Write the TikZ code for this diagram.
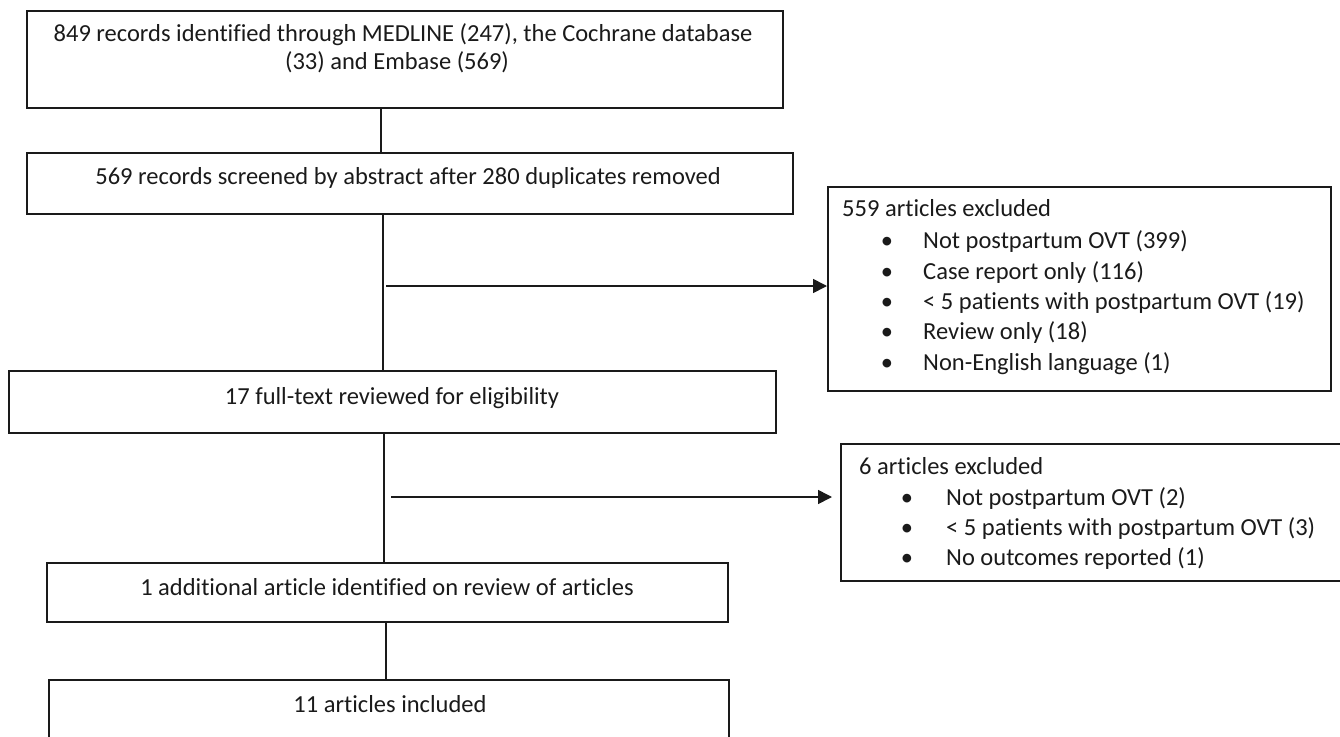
\documentclass[tikz,border=0pt]{standalone}
\usepackage{fontspec}
\setmainfont{Carlito}[Ligatures={NoCommon}]
\usetikzlibrary{arrows.meta}
\definecolor{ink}{HTML}{1A1A1A}
\begin{document}
\begin{tikzpicture}[x=1pt,y=-1pt,
  box/.style={draw=ink,line width=1.6pt,inner sep=0pt,anchor=north west,rectangle},
  txt/.style={text=ink,font=\fontsize{24.5}{28}\selectfont,inner sep=0pt,text height=0.75em,text depth=0.15em},
  ltxt/.style={txt,anchor=west},
  conn/.style={draw=ink,line width=1.6pt},
  arr/.style={conn,-{Triangle[length=14pt,width=14pt]}}]
\useasboundingbox (0,0) rectangle (1340,736);
% boxes
\node[box,minimum width=756pt,minimum height=97pt] (b1) at (26,10) {};
\node[box,minimum width=766pt,minimum height=61pt] (b2) at (26,152) {};
\node[box,minimum width=503pt,minimum height=204pt] (e1) at (827,186) {};
\node[box,minimum width=767pt,minimum height=62pt] (b3) at (8,370) {};
\node[box,minimum width=530pt,minimum height=137pt] (e2) at (840,443) {};
\node[box,minimum width=681pt,minimum height=59pt] (b4) at (46,562) {};
\node[box,minimum width=680pt,minimum height=90pt] (b5) at (48,679) {};
% texts
\node[txt] (t1a) at (403,38) {849 records identified through MEDLINE (247), the Cochrane database};
\node[txt] (t1b) at (397,66) {(33) and Embase (569)};
\node[txt] (t2) at (408,181) {569 records screened by abstract after 280 duplicates removed};
\node[txt] (t3) at (392,401) {17 full-text reviewed for eligibility};
\node[txt] (t4) at (387,592) {1 additional article identified on review of articles};
\node[txt] (t5) at (390,709) {11 articles included};
% exclusion list 1
\node[ltxt] (h1) at (842,213) {559 articles excluded};
\node[txt] (p1) at (887,245) {•};
\node[ltxt] (q1) at (923,245) {Not postpartum OVT (399)};
\node[txt] (p2) at (887,276) {•};
\node[ltxt] (q2) at (923,276) {Case report only (116)};
\node[txt] (p3) at (887,306) {•};
\node[ltxt] (q3) at (923,306) {< 5 patients with postpartum OVT (19)};
\node[txt] (p4) at (887,336) {•};
\node[ltxt] (q4) at (923,336) {Review only (18)};
\node[txt] (p5) at (887,367) {•};
\node[ltxt] (q5) at (923,367) {Non-English language (1)};
% exclusion list 2
\node[ltxt] (h2) at (859,471) {6 articles excluded};
\node[txt] (r1) at (907,502) {•};
\node[ltxt] (s1) at (946,502) {Not postpartum OVT (2)};
\node[txt] (r2) at (907,532) {•};
\node[ltxt] (s2) at (946,532) {< 5 patients with postpartum OVT (3)};
\node[txt] (r3) at (907,562) {•};
\node[ltxt] (s3) at (946,562) {No outcomes reported (1)};
% connector coordinates
\coordinate (c1) at (381,0);
\coordinate (c2) at (383,0);
\coordinate (c3) at (384,0);
\coordinate (c4) at (386,0);
\coordinate (a1) at (386,286);
\coordinate (a2) at (391,497);
\coordinate (a2end) at (832,497);
% connectors
\draw[conn] (c1 |- b1.south) -- (c1 |- b2.north);
\draw[conn] (c2 |- b2.south) -- (c2 |- b3.north);
\draw[conn] (c3 |- b3.south) -- (c3 |- b4.north);
\draw[conn] (c4 |- b4.south) -- (c4 |- b5.north);
\draw[arr] (a1) -- (a1 -| e1.west);
\draw[arr] (a2) -- (a2end);
\end{tikzpicture}
\end{document}
